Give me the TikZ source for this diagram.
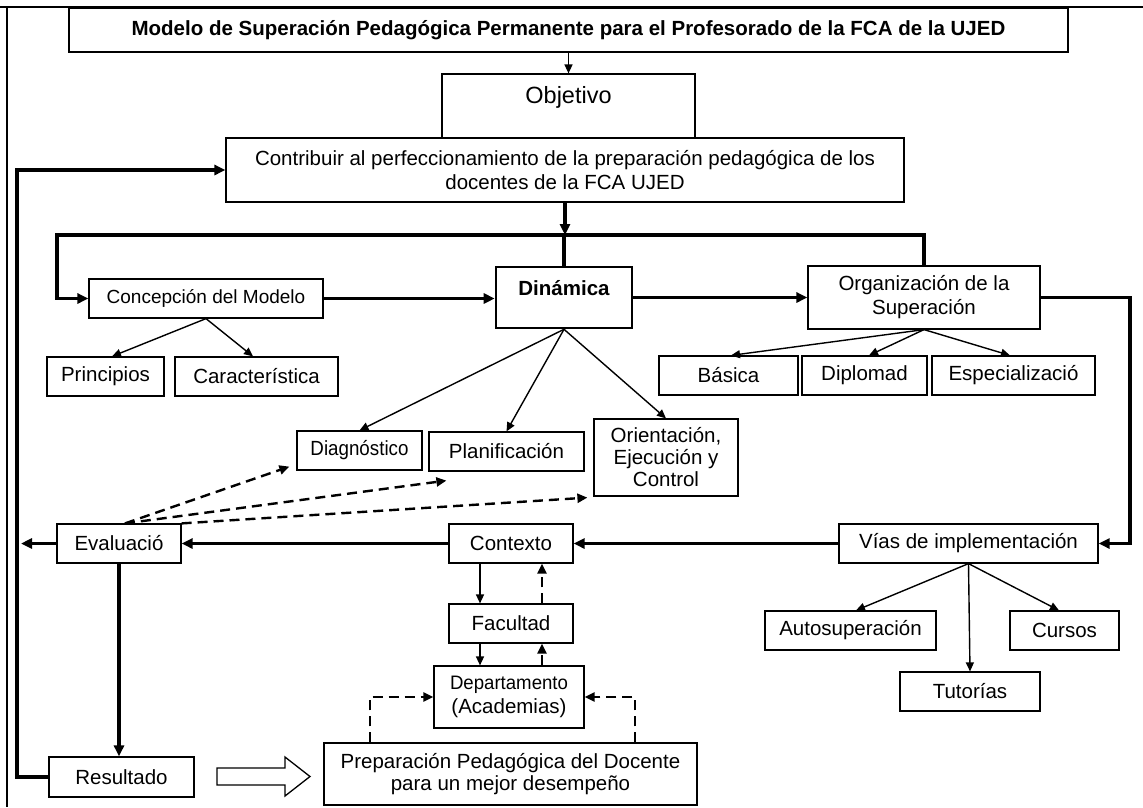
\documentclass[tikz,border=0pt]{standalone}
\usepackage{fontspec}
\usepackage{graphicx}
\setmainfont{Liberation Sans}
\usetikzlibrary{arrows.meta,calc}
\newcommand{\fnorm}{\fontsize{20.5}{24}\selectfont}
\newcommand{\fconc}{\fontsize{19}{23}\selectfont}
\newcommand{\fobj}{\fontsize{23.5}{27}\selectfont}
\newcommand{\fori}{\fontsize{20.5}{22}\selectfont}
\tikzset{
  box/.style={draw, line width=1.2pt, inner sep=0pt, align=center, font=\fnorm},
  thinarr/.style={line width=1.4pt, -{Triangle[length=9pt,width=8pt]}},
  thickln/.style={line width=3.4pt},
  thickarr/.style={line width=3.4pt, -{Triangle[length=11pt,width=10pt]}},
  dasharr/.style={line width=2.4pt, dash pattern=on 10pt off 6pt, -{Triangle[length=10pt,width=9pt]}},
  framel/.style={line width=2.5pt}
}
\begin{document}
\begin{tikzpicture}[x=1pt,y=-1pt]
\useasboundingbox (0,0) rectangle (1143,807);
\fill[white] (0,0) rectangle (1143,807);
% frame
\draw[framel] (0,7) -- (1143,7);
\draw[framel] (7,7) -- (7,807);

% boxes
\node[box, font=\bfseries\fnorm, minimum width=999pt, minimum height=44pt] (title) at (568.5,30) {Modelo de Superación Pedagógica Permanente para el Profesorado de la FCA de la UJED};
\node[box, minimum width=253pt, minimum height=64pt] (obj) at (568.5,106) {};
\node[font=\fobj, inner sep=0pt] (objt) at ([yshift=9pt]obj.center) {Objetivo};
\node[box, minimum width=678pt, minimum height=64pt] (contrib) at (565,170) {Contribuir al perfeccionamiento de la preparación pedagógica de los\\docentes de la FCA UJED};
\node[box, font=\fconc, minimum width=234pt, minimum height=39pt] (conc) at (206,298.5) {Concepción del Modelo};
\node[box, line width=2.6pt, minimum width=136pt, minimum height=61pt] (din) at (564,297.5) {};
\node[font=\bfseries\fnorm, inner sep=0pt] (dint) at ([yshift=9pt]din.center) {Dinámica};
\node[box, minimum width=232pt, minimum height=63pt] (org) at (924,297.5) {Organización de la\\Superación};

\node[box, minimum width=117pt, minimum height=39pt] (prin) at (105.5,376.5) {Principios};
\node[box, minimum width=163pt, minimum height=39pt] (car) at (256.5,376.5) {Característica};

\node[box, minimum width=139pt, minimum height=39pt] (bas) at (728.5,375.5) {Básica};
\node[box, minimum width=125pt, minimum height=39pt] (dip) at (864.5,375.5) {Diplomad};
\node[box, minimum width=163pt, minimum height=39pt] (esp) at (1013.5,375.5) {Especializació};

\node[box, minimum width=125pt, minimum height=39pt] (diag) at (359.5,450.5) {\scalebox{0.915}[1]{Diagnóstico}};
\node[box, minimum width=155pt, minimum height=39pt] (plan) at (506.5,451.5) {Planificación};
\node[box, font=\fori, minimum width=144pt, minimum height=77pt] (ori) at (666,457.5) {Orientación,\\Ejecución y\\Control};

\node[box, minimum width=124pt, minimum height=39pt] (eval) at (119,543.5) {Evaluació};
\node[box, minimum width=124pt, minimum height=39pt] (ctx) at (511,543.5) {Contexto};
\node[box, minimum width=259pt, minimum height=39pt] (vias) at (968.5,543.5) {Vías de implementación};

\node[box, minimum width=124pt, minimum height=39pt] (fac) at (511,623.5) {Facultad};
\node[box, minimum width=150pt, minimum height=62pt] (dep) at (509,697) {{\fontsize{19.5}{24}\selectfont\scalebox{0.955}[1]{Departamento}}\\(Academias)};

\node[box, minimum width=171pt, minimum height=39pt] (auto) at (850.5,630.5) {Autosuperación};
\node[box, minimum width=109pt, minimum height=39pt] (cur) at (1064.5,630.5) {Cursos};
\node[box, minimum width=140pt, minimum height=39pt] (tut) at (970,691.5) {Tutorías};

\node[box, minimum width=145pt, minimum height=40pt] (res) at (121.5,777) {Resultado};
\node[box, font=\fori, minimum width=373pt, minimum height=62pt] (prep) at (510.5,774) {Preparación Pedagógica del Docente\\para un mejor desempeño};

% coordinates
\coordinate (hl) at (57,235);
\coordinate (hr) at (924,235);
\coordinate (lp) at (17,400);
\coordinate (el) at (21,543.5);
\coordinate (rc) at (1130,420);

% connectors
\draw[thinarr] (title.south) -- (obj.north);
\draw[thickarr] (org.north) -- (hr) -- (hl) |- (conc.west);
\draw[thickln] (din.north) -- (din.north |- hl);
\draw[thickarr] (contrib.south) -- (contrib.south |- hl);
\draw[thickarr] (conc.east) -- (conc.east -| din.west);
\draw[thickarr] (din.east) -- (din.east -| org.west);
\draw[thickarr] (org.east) -| (rc) |- (vias.east);
\draw[thickarr] (vias.west) -- (ctx.east);
\draw[thickarr] (ctx.west) -- (eval.east);
\draw[thickarr] (eval.west) -- (el);
\draw[thickarr] (eval.south) -- (eval.south |- res.north);
\draw[thickarr] (res.west) -| (lp) |- (contrib.west);

\draw[thinarr] (conc.south) -- ([xshift=6.5pt]prin.north);
\draw[thinarr] (conc.south) -- ([xshift=-3.5pt]car.north);
\draw[thinarr] (din.south) -- (diag.north);
\draw[thinarr] (din.south) -- (plan.north);
\draw[thinarr] (din.south) -- (ori.north);
\draw[thinarr] (org.south) -- ([xshift=2.5pt]bas.north);
\draw[thinarr] (org.south) -- ([xshift=4.5pt]dip.north);
\draw[thinarr] (org.south) -- ([xshift=-3.5pt]esp.north);
\draw[thinarr] (vias.south) -- ([xshift=5.5pt]auto.north);
\draw[thinarr] (vias.south) -- (tut.north);
\draw[thinarr] (vias.south) -- ([xshift=-5.5pt]cur.north);

\draw[thinarr] ([xshift=-31pt]ctx.south) -- ([xshift=-31pt]ctx.south |- fac.north);
\draw[dasharr] ([xshift=31pt]fac.north) -- ([xshift=31pt]fac.north |- ctx.south);
\draw[thinarr] ([xshift=-31pt]fac.south) -- ([xshift=-31pt]fac.south |- dep.north);
\draw[dasharr] ([xshift=31pt]fac.south |- dep.north) -- ([xshift=31pt]fac.south);

\draw[dasharr] ([xshift=-140.5pt]prep.north) |- (dep.west);
\draw[dasharr] ([xshift=124.5pt]prep.north) |- (dep.east);

\draw[dasharr] ([xshift=6pt]eval.north) -- ([xshift=-7pt,yshift=4pt]diag.south west);
\draw[dasharr] ([xshift=6pt]eval.north) -- ([xshift=18pt,yshift=-9pt]plan.south west);
\draw[dasharr] (eval.north east) -- ([xshift=-6pt,yshift=-1pt]ori.south west);

% hollow block arrow
\draw[line width=1.3pt, fill=white] (217,768) -- (285,768) -- (285,757) -- (310,776.5) -- (285,796) -- (285,785) -- (217,785) -- cycle;
\end{tikzpicture}
\end{document}
